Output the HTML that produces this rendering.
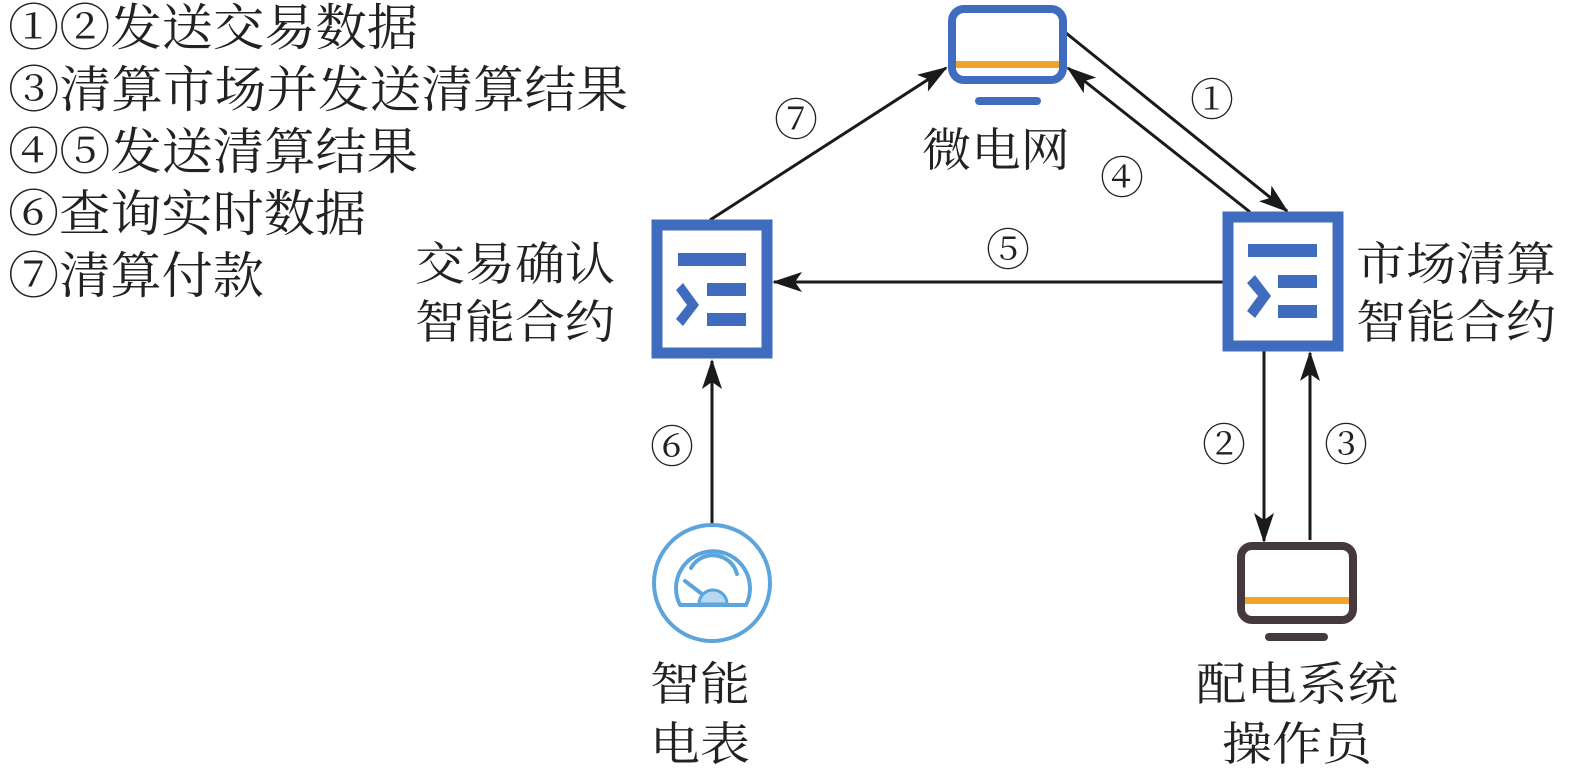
<!DOCTYPE html>
<html><head><meta charset="utf-8"><style>
html,body{margin:0;padding:0;background:#fff;}
svg{display:block;}
text{font-family:"Liberation Serif","Noto Serif CJK SC",serif;fill:#222;}
</style></head><body>
<svg width="1575" height="769" viewBox="0 0 1575 769" xmlns="http://www.w3.org/2000/svg">
<defs>
<marker id="a" viewBox="0 0 30 20" refX="28" refY="10" markerWidth="30" markerHeight="20" markerUnits="userSpaceOnUse" orient="auto">
<path d="M0,0 L30,10 L0,20 L7,10 Z" fill="#1a1a1a"/>
</marker>
</defs>
<g font-size="50">
<text x="8" y="45" textLength="410" lengthAdjust="spacingAndGlyphs">①②发送交易数据</text>
<text x="8" y="107" textLength="620" lengthAdjust="spacingAndGlyphs">③清算市场并发送清算结果</text>
<text x="8" y="169" textLength="410" lengthAdjust="spacingAndGlyphs">④⑤发送清算结果</text>
<text x="8" y="231" textLength="358" lengthAdjust="spacingAndGlyphs">⑥查询实时数据</text>
<text x="8" y="293" textLength="256" lengthAdjust="spacingAndGlyphs">⑦清算付款</text>
</g>
<g stroke="#1a1a1a" stroke-width="3" fill="none">
<line x1="710" y1="220" x2="946" y2="68" marker-end="url(#a)"/>
<line x1="1066" y1="33" x2="1287" y2="211" marker-end="url(#a)"/>
<line x1="1250" y1="212" x2="1068" y2="68" marker-end="url(#a)"/>
<line x1="1223" y1="282" x2="774" y2="282" marker-end="url(#a)"/>
<line x1="1264" y1="351" x2="1264" y2="541" marker-end="url(#a)"/>
<line x1="1310" y1="540" x2="1310" y2="353" marker-end="url(#a)"/>
<line x1="712" y1="525" x2="712" y2="361" marker-end="url(#a)"/>
</g>
<!-- microgrid monitor -->
<rect x="952" y="9" width="111" height="71" rx="12" fill="#fff" stroke="#3F6CBE" stroke-width="8"/>
<rect x="956" y="61" width="103" height="7" fill="#F0A42C"/>
<rect x="975" y="97" width="66" height="8" rx="4" fill="#3F6CBE"/>
<!-- left contract -->
<rect x="657" y="225" width="110" height="128" fill="#fff" stroke="#3F6CBE" stroke-width="11"/>
<rect x="678" y="253" width="68" height="13" fill="#3F6CBE"/>
<rect x="707" y="283" width="39" height="13" fill="#3F6CBE"/>
<rect x="707" y="313" width="39" height="13" fill="#3F6CBE"/>
<path d="M676,290 L683,283 L699,305 L683,326 L676,319 L687,305 Z" fill="#3F6CBE"/>
<!-- right contract -->
<rect x="1228" y="217" width="110" height="129" fill="#fff" stroke="#3F6CBE" stroke-width="11"/>
<rect x="1248" y="244" width="69" height="13" fill="#3F6CBE"/>
<rect x="1278" y="275" width="39" height="13" fill="#3F6CBE"/>
<rect x="1278" y="305" width="39" height="13" fill="#3F6CBE"/>
<path d="M1247,283 L1255,275 L1271,296 L1255,318 L1247,311 L1258,296 Z" fill="#3F6CBE"/>
<!-- meter -->
<ellipse cx="712" cy="583" rx="58" ry="58" fill="#fff" stroke="#5BA4DC" stroke-width="4"/>
<path d="M680,605 A37,37 0 1 1 746,605 Z" fill="none" stroke="#5BA4DC" stroke-width="4" stroke-linejoin="round"/>
<path d="M699,604 A14,14 0 0 1 727,604 Z" fill="#B8D8F2" stroke="#5BA4DC" stroke-width="3"/>
<path d="M691,568 A25,25 0 0 1 737,574" fill="none" stroke="#5BA4DC" stroke-width="4" stroke-linecap="round"/>
<line x1="685" y1="581" x2="702" y2="594" stroke="#5BA4DC" stroke-width="4" stroke-linecap="round"/>
<!-- operator monitor -->
<rect x="1241" y="546" width="112" height="74" rx="11" fill="#fff" stroke="#45393D" stroke-width="8"/>
<rect x="1245" y="597" width="104" height="7" fill="#F0A42C"/>
<rect x="1265" y="633" width="63" height="8" rx="4" fill="#45393D"/>
<g font-size="44" text-anchor="middle">
<text x="796" y="135">⑦</text>
<text x="1212" y="115">①</text>
<text x="1122" y="193">④</text>
<text x="1008" y="265">⑤</text>
<text x="672" y="462">⑥</text>
<text x="1224" y="460">②</text>
<text x="1346" y="460">③</text>
</g>
<g font-size="46">
<text x="922" y="166" textLength="148" lengthAdjust="spacingAndGlyphs">微电网</text>
<text x="415" y="280" textLength="200" lengthAdjust="spacingAndGlyphs">交易确认</text>
<text x="415" y="338" textLength="200" lengthAdjust="spacingAndGlyphs">智能合约</text>
<text x="1356" y="280" textLength="200" lengthAdjust="spacingAndGlyphs">市场清算</text>
<text x="1356" y="338" textLength="200" lengthAdjust="spacingAndGlyphs">智能合约</text>
<text x="650" y="700" textLength="100" lengthAdjust="spacingAndGlyphs">智能</text>
<text x="650" y="760" textLength="100" lengthAdjust="spacingAndGlyphs">电表</text>
<text x="1196" y="700" textLength="202" lengthAdjust="spacingAndGlyphs">配电系统</text>
<text x="1222" y="760" textLength="150" lengthAdjust="spacingAndGlyphs">操作员</text>
</g>
</svg>
</body></html>
